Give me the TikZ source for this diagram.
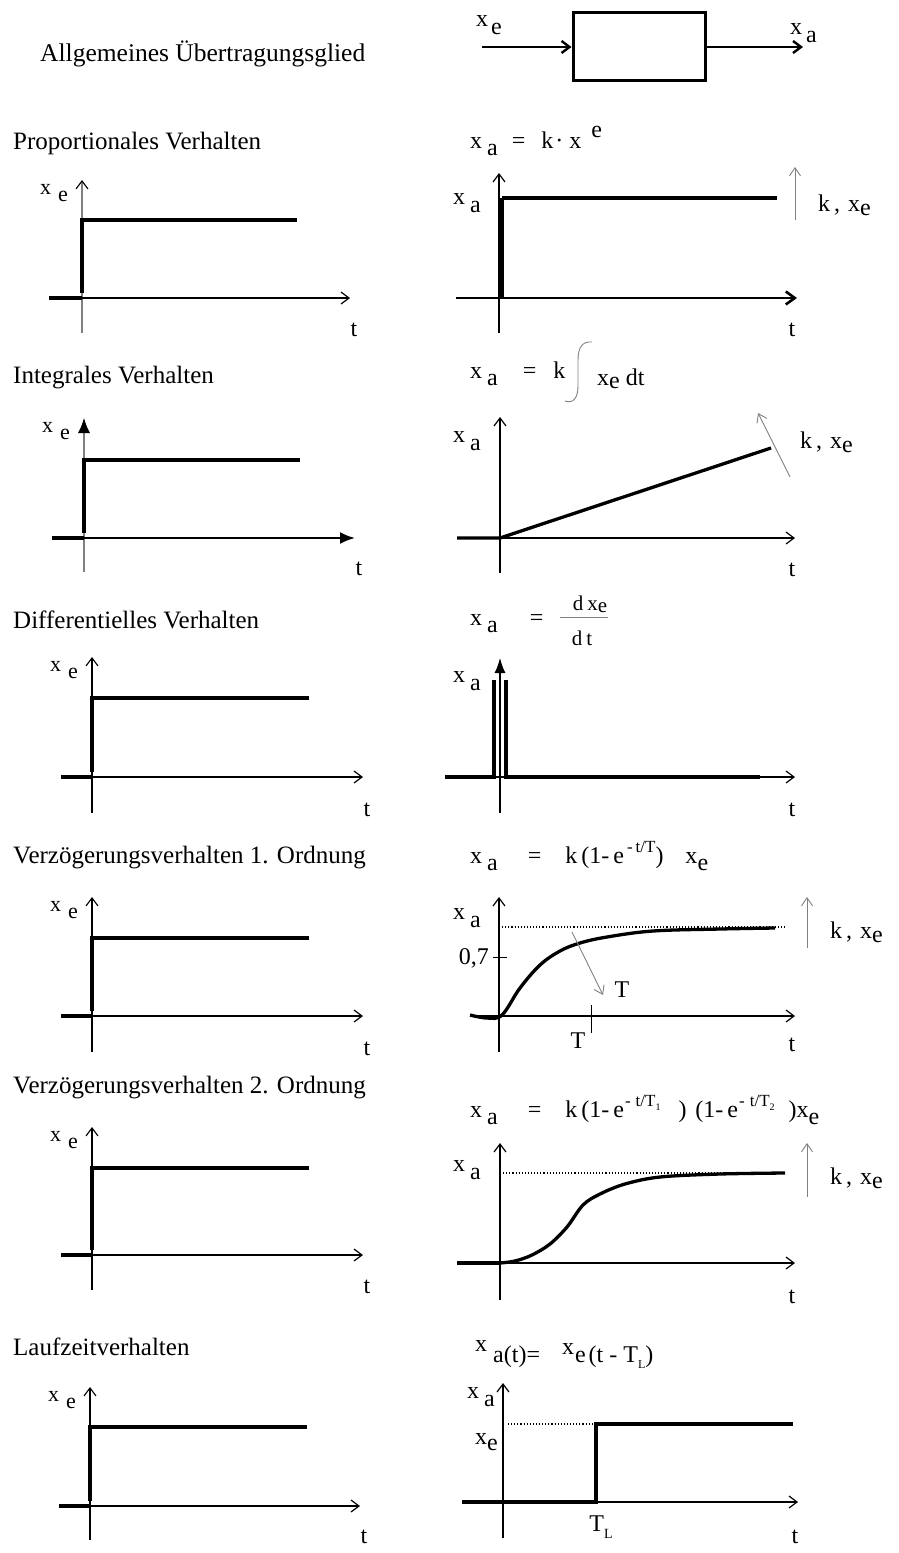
\documentclass[tikz,border=0pt]{standalone}
\usepackage{fontspec}
\setmainfont{Liberation Serif}
\usetikzlibrary{arrows.meta}
\newcommand\dn[1]{\raisebox{-0.33em}{#1}}
\newcommand\up[1]{\raisebox{0.45em}{#1}}
\newcommand\sml{\fontsize{17}{19}\selectfont}
\newcommand\tny{\fontsize{10}{12}\selectfont}

\begin{document}
\begin{tikzpicture}[
    x=1pt, y=-1pt,
    font=\fontsize{24}{28}\selectfont,
    title/.style={anchor=west, inner sep=0pt, font=\fontsize{25}{29}\selectfont},
    lbl/.style={inner sep=0pt},
    eq/.style={inner sep=0pt, anchor=base west},
    axis/.style={line width=1.2pt, -{Straight Barb[length=8pt,width=12pt,color=black]}},
    axisf/.style={line width=2pt, -{Latex[length=15pt,width=12pt,color=black]}},
    sig/.style={line width=3.3pt},
    hint/.style={draw=gray, line width=0.9pt, -{Straight Barb[length=8pt,width=11pt]}},
    ref/.style={dotted, line width=1.1pt},
    block/.style={draw, line width=3pt, minimum width=132pt, minimum height=68pt}
]
\useasboundingbox (0,0) rectangle (899,1553);

% Allgemeines Glied
\node[title, font=\fontsize{25.5}{29}\selectfont] (tg) at (40,54) {Allgemeines Übertragungsglied};
\node[block] (glied) at (639,46) {};
\coordinate (ein) at (482,47);
\coordinate (aus) at (803,47);
\draw[line width=2.4pt, -{Straight Barb[length=8pt,width=12pt]}] (ein) -- (glied.west |- ein);
\draw[line width=2.4pt, -{Straight Barb[length=8pt,width=12pt]}] (glied.east |- aus) -- (aus);
\node[lbl, anchor=west] (xein) at (476,25) {x\hspace{3pt}\dn{e}};
\node[lbl, anchor=west] (xaus) at (790,33) {x\hspace{4pt}\dn{a}};

% Titel
\node[title] (t1) at (13,143) {Proportionales Verhalten};
\node[title] (t2) at (13,378) {Integrales Verhalten};
\node[title] (t3) at (13,620) {Differentielles Verhalten};
\node[title] (t4) at (13,858) {Verzögerungsverhalten 1. Ordnung};
\node[title] (t5) at (13,1088) {Verzögerungsverhalten 2. Ordnung};
\node[title] (t6) at (13,1347) {Laufzeitverhalten};

% Eingangssprung (links)
\foreach \n/\ox/\oy/\ya/\yb/\sy/\se/\lx/\rx/\st/\vc in {
    1/82/298/180/333/220/297/49/350/axis/gray,
    2/84/538/418/572/460/300/52/355/axisf/gray,
    3/92/777/657/813/698/309/61/363/axis/black,
    4/92/1016/897/1052/938/309/61/363/axis/black,
    5/92/1255/1127/1290/1168/309/61/363/axis/black,
    6/90/1506/1387/1540/1427/307/59/360/axis/black}{
  \draw[\st, line width=1.1pt, draw=\vc] (\ox,\yb) -- (\ox,\ya);
  \draw[\st] (\lx,\oy) -- (\rx,\oy);
  \draw[sig] (\lx,\oy) -- (\ox,\oy);
  \draw[sig] (\ox,\oy-5) -- (\ox,\sy) -- (\se,\sy);
  \node[lbl, anchor=east, font=\fontsize{22}{26}\selectfont] (xe\n) at (\ox-14,\ya+13) {x\hspace{7pt}\dn{e}};
  \node[lbl] (te\n) at (\rx+4,\yb-3) {t};
}

% P-Glied
\node[eq] (f1) at (470,148) {x\hspace{5pt}\dn{a}\hspace{14pt}=\hspace{16pt}k\hspace{2pt}\textperiodcentered\hspace{6pt}x\hspace{10pt}\up{e}};
\draw[axis] (499,333) -- (499,173);
\draw[line width=2.6pt, -{Straight Barb[length=9pt,width=13pt]}] (456,298) -- (797,298);
\draw[line width=4.2pt] (502,298) -- (502,198);
\draw[sig] (502,198) -- (777,198);
\node[lbl, anchor=west] (xa1) at (453,203) {x\hspace{5pt}\dn{a}};
\draw[hint] (795,220) -- (795,167);
\node[lbl, anchor=west] (k1) at (818,205) {k\hspace{4pt},\hspace{8pt}x\raisebox{-0.15em}{e}};
\node[lbl] (ta1) at (792,330) {t};

% I-Glied
\node[eq] (f2) at (470,378) {x\hspace{5pt}\dn{a}\hspace{25pt}=\hspace{17pt}k};
\draw[gray, line width=0.9pt] (592,342) .. controls (582,341) and (578,348) .. (578,360)
    -- (578,386) .. controls (578,398) and (573,404) .. (565,401);
\node[eq] (f2b) at (597,385) {x\raisebox{-0.15em}{e}\hspace{6pt}dt};
\draw[axis] (500,573) -- (500,417);
\draw[axis] (457,538) -- (795,538);
\draw[sig] (457,538) -- (500,538) -- (771,448);
\node[lbl, anchor=west] (xa2) at (453,441) {x\hspace{5pt}\dn{a}};
\draw[hint] (790,477) -- (758,413);
\node[lbl, anchor=west] (k2) at (800,442) {k\hspace{4pt},\hspace{8pt}x\raisebox{-0.15em}{e}};
\node[lbl] (ta2) at (792,570) {t};

% D-Glied
\node[eq] (f3) at (470,625) {x\hspace{5pt}\dn{a}\hspace{32pt}=};
\node[lbl, font=\fontsize{21}{24}\selectfont] (num3) at (590,604) {d\hspace{4pt}x\raisebox{-0.1em}{e}};
\node[lbl, font=\fontsize{21}{24}\selectfont] (den3) at (582,638) {d\hspace{4pt}t};
\draw[gray, line width=0.7pt] (560,617) -- (608,617);
\draw[line width=1.2pt, -{Latex[length=15pt,width=11pt]}] (500,813) -- (500,658);
\draw[axis] (445,777) -- (795,777);
\draw[sig] (445,777) -- (494,777) -- (494,680);
\draw[sig] (506,680) -- (506,777) -- (760,777);
\node[lbl, anchor=west] (xa3) at (453,681) {x\hspace{5pt}\dn{a}};
\node[lbl] (ta3) at (792,810) {t};

% PT1-Glied
\node[eq] (f4) at (470,863) {x\hspace{5pt}\dn{a}\hspace{30pt}=\hspace{24pt}k\hspace{4pt}(1-\hspace{4pt}e\hspace{3pt}\up{\sml -\hspace{3pt}t/T})\hspace{22pt}x\raisebox{-0.3em}{e}};
\draw[axis] (499,1052) -- (499,897);
\draw[axis] (470,1016) -- (795,1016);
\draw[ref] (499,927) -- (785,927);
\draw[line width=0.7pt] (493,957) -- (507,957);
\node[lbl, anchor=east] (p7) at (489,958) {0,7};
\draw[sig] plot[smooth, tension=0.6] coordinates {(470,1015) (487,1018) (502,1015) (520,988) (540,965) (560,951) (580,943) (607,937) (653,931) (720,929) (775,928)};
\draw[line width=0.7pt] (591,1005) -- (591,1033);
\node[lbl] (tt4) at (578,1041) {T};
\draw[hint] (572,932) -- (603,995);
\node[lbl] (tz4) at (622,990) {T};
\draw[hint] (807,948) -- (807,897);
\node[lbl, anchor=west] (k4) at (830,932) {k\hspace{4pt},\hspace{8pt}x\raisebox{-0.15em}{e}};
\node[lbl, anchor=west] (xa4) at (453,918) {x\hspace{5pt}\dn{a}};
\node[lbl] (ta4) at (792,1045) {t};

% PT2-Glied
\node[eq] (f5) at (470,1117) {x\hspace{5pt}\dn{a}\hspace{30pt}=\hspace{24pt}k\hspace{4pt}(1-\hspace{4pt}e\hspace{1pt}\up{\sml -\hspace{5pt}t/T\raisebox{-0.25em}{\tny 1}}\hspace{18pt})\hspace{9pt}(1-\hspace{4pt}e\hspace{1pt}\up{\sml -\hspace{5pt}t/T\raisebox{-0.25em}{\tny 2}}\hspace{14pt})x\raisebox{-0.3em}{e}};
\draw[axis] (500,1300) -- (500,1143);
\draw[axis] (457,1263) -- (795,1263);
\draw[sig] (457,1263) -- (500,1263);
\draw[ref] (500,1173) -- (785,1173);
\draw[sig] plot[smooth, tension=0.55] coordinates {(500,1263) (515,1261) (532,1255) (550,1244) (567,1227) (583,1205) (600,1194) (625,1184) (660,1177) (720,1174) (785,1173)};
\draw[hint] (807,1197) -- (807,1143);
\node[lbl, anchor=west] (k5) at (830,1178) {k\hspace{4pt},\hspace{8pt}x\raisebox{-0.15em}{e}};
\node[lbl, anchor=west] (xa5) at (453,1170) {x\hspace{5pt}\dn{a}};
\node[lbl] (ta5) at (792,1297) {t};

% Totzeit-Glied
\node[eq] (f6) at (475,1362) {\raisebox{0.45em}{x}\hspace{6pt}a(t)=\hspace{22pt}\raisebox{0.3em}{x}\hspace{1pt}e\hspace{3pt}(t - T\raisebox{-0.25em}{\fontsize{12}{14}\selectfont L})};
\draw[axis] (503,1538) -- (503,1383);
\draw[axis] (462,1502) -- (798,1502);
\draw[ref] (508,1424) -- (596,1424);
\draw[sig] (462,1502) -- (596,1502) -- (596,1424) -- (793,1424);
\node[lbl, anchor=west] (xa6) at (467,1397) {x\hspace{5pt}\dn{a}};
\node[lbl, anchor=west] (xe6) at (475,1442) {x\raisebox{-0.25em}{e}};
\node[lbl] (tl6) at (601,1527) {T\raisebox{-0.3em}{\fontsize{14}{16}\selectfont L}};
\node[lbl] (ta6) at (795,1537) {t};

\end{tikzpicture}
\end{document}
